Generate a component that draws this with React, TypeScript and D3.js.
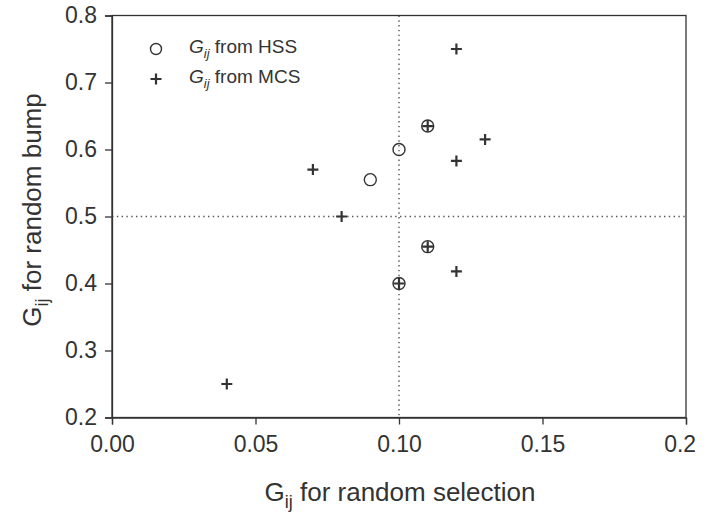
import React, { useRef, useEffect } from "react";
import * as d3 from "d3";

// Gij values
const hssSelection = [0.09, 0.10, 0.11, 0.11, 0.10];
const hssBump = [0.555, 0.60, 0.635, 0.455, 0.40];

const mcsSelection = [0.04, 0.07, 0.08, 0.10, 0.11, 0.11, 0.12, 0.12, 0.12, 0.13];
const mcsBump = [0.25, 0.57, 0.50, 0.40, 0.455, 0.635, 0.75, 0.583, 0.418, 0.615];

const xTicks = [0.0, 0.05, 0.1, 0.15, 0.2];
const yTicks = [0.2, 0.3, 0.4, 0.5, 0.6, 0.7, 0.8];
const refX = 0.1;
const refY = 0.5;

const legendLabels = ["from HSS", "from MCS"];

const W = 710;
const H = 515;
const ink = "#333";
const font = "'Liberation Sans', Arial, Helvetica, sans-serif";

function App() {
    const svgRef = useRef<SVGSVGElement>(null);

    useEffect(() => {
        const svg = d3.select(svgRef.current);
        svg.selectAll("*").remove();

        const left = 112, right = 686, top = 15.5, bottom = 417.5;

        const x = d3.scaleLinear().domain([0, 0.2]).range([left, right]);
        const y = d3.scaleLinear().domain([0.2, 0.8]).range([bottom, top]);

        // clip so the last x label is cut like the scan
        svg.append("defs").append("clipPath").attr("id", "cut")
            .append("rect").attr("x", 0).attr("y", 0).attr("width", 695).attr("height", H);

        // dotted reference lines
        svg.append("line")
            .attr("x1", x(refX)).attr("x2", x(refX))
            .attr("y1", y(0.8)).attr("y2", y(0.2))
            .attr("stroke", "#555").attr("stroke-width", 1.4)
            .attr("stroke-dasharray", "1.4,3.4");
        svg.append("line")
            .attr("x1", x(0)).attr("x2", x(0.2))
            .attr("y1", y(refY)).attr("y2", y(refY))
            .attr("stroke", "#555").attr("stroke-width", 1.4)
            .attr("stroke-dasharray", "1.4,3.4");

        // frame
        svg.append("rect")
            .attr("x", left).attr("y", top)
            .attr("width", right - left).attr("height", bottom - top)
            .attr("fill", "none").attr("stroke", ink).attr("stroke-width", 1.3);

        // axes
        const xAxis = d3.axisBottom(x)
            .tickValues(xTicks)
            .tickFormat(d3.format(".2f"))
            .tickSize(7)
            .tickPadding(11);
        const gx = svg.append("g")
            .attr("transform", `translate(0, ${bottom})`)
            .attr("clip-path", "url(#cut)")
            .call(xAxis);

        const yAxis = d3.axisLeft(y)
            .tickValues(yTicks)
            .tickFormat(d3.format(".1f"))
            .tickSize(7)
            .tickPadding(8);
        const gy = svg.append("g")
            .attr("transform", `translate(${left}, 0)`)
            .call(yAxis);

        [gx, gy].forEach(g => {
            g.select(".domain").attr("stroke", ink).attr("stroke-width", 1.3);
            g.selectAll(".tick line").attr("stroke", ink).attr("stroke-width", 1.3);
            g.selectAll(".tick text")
                .attr("fill", ink)
                .style("font-family", font)
                .style("font-size", "23px");
        });

        // HSS circles
        svg.append("g")
            .selectAll("circle")
            .data(hssSelection)
            .join("circle")
            .attr("cx", d => x(d))
            .attr("cy", (d, i) => y(hssBump[i]))
            .attr("r", 6)
            .attr("fill", "none")
            .attr("stroke", ink)
            .attr("stroke-width", 1.4);

        // MCS plus signs
        const plusPath = (cx: number, cy: number) =>
            `M${cx - 5.5},${cy}H${cx + 5.5}M${cx},${cy - 5.5}V${cy + 5.5}`;
        svg.append("g")
            .selectAll("path")
            .data(mcsSelection)
            .join("path")
            .attr("d", (d, i) => plusPath(x(d), y(mcsBump[i])))
            .attr("stroke", ink)
            .attr("stroke-width", 2.2);

        // legend
        const lg = svg.append("g").style("font-family", font).attr("fill", ink);
        lg.append("circle").attr("cx", 156).attr("cy", 49).attr("r", 5.5)
            .attr("fill", "none").attr("stroke", ink).attr("stroke-width", 1.4);
        lg.append("path").attr("d", plusPath(156, 79))
            .attr("stroke", ink).attr("stroke-width", 2.2);
        legendLabels.forEach((lab, i) => {
            const t = lg.append("text").attr("x", 189).attr("y", 53 + i * 30)
                .style("font-size", "19px");
            t.append("tspan").attr("font-style", "italic").text("G");
            t.append("tspan").attr("font-style", "italic").attr("dy", 5)
                .style("font-size", "13px").text("ij");
            t.append("tspan").attr("dy", -5).text(" " + lab);
        });

        // axis titles
        const xt = svg.append("text")
            .attr("x", 400).attr("y", 501)
            .attr("text-anchor", "middle")
            .attr("fill", ink)
            .style("font-family", font)
            .style("font-size", "26px");
        xt.append("tspan").text("G");
        xt.append("tspan").attr("dy", 7).style("font-size", "18px").text("ij");
        xt.append("tspan").attr("dy", -7).text(" for random selection");

        const yt = svg.append("text")
            .attr("transform", "translate(41, 210) rotate(-90)")
            .attr("text-anchor", "middle")
            .attr("fill", ink)
            .style("font-family", font)
            .style("font-size", "26px");
        yt.append("tspan").text("G");
        yt.append("tspan").attr("dy", 7).style("font-size", "18px").text("ij");
        yt.append("tspan").attr("dy", -7).text(" for random bump");
    }, []);

    return (
        <div style={{ position: "fixed", left: 0, top: 0, background: "#fff" }}>
            <svg ref={svgRef} width={W} height={H} style={{ display: "block" }}></svg>
        </div>
    );
}

export default App;
